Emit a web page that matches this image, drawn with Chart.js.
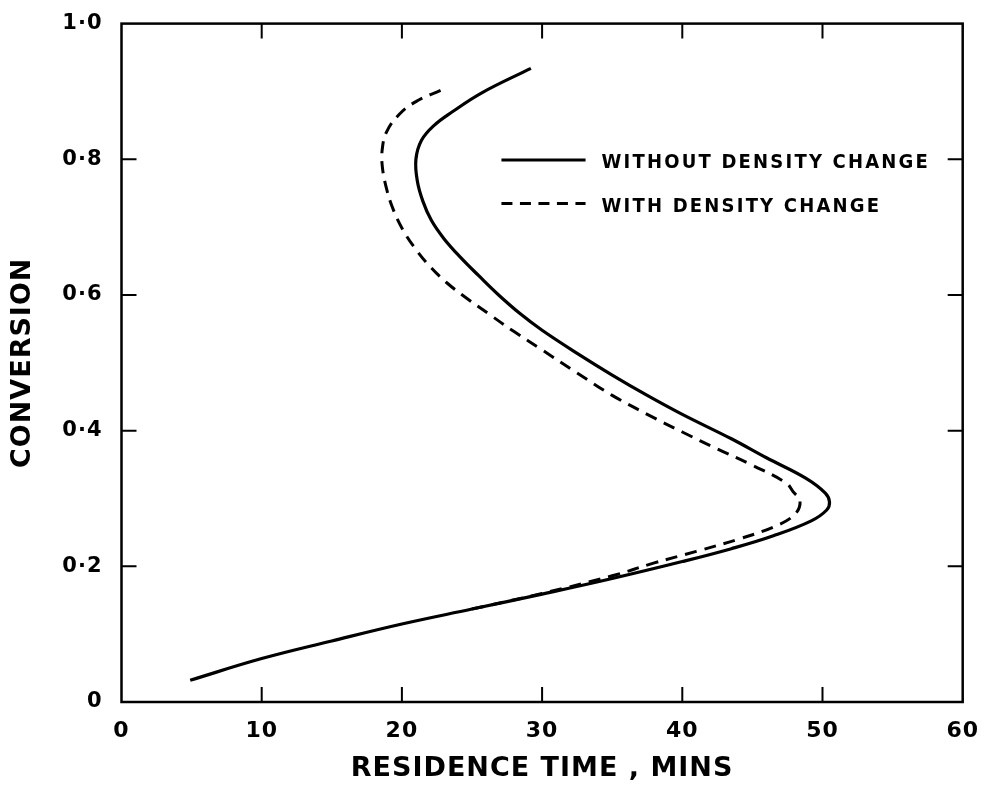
<!DOCTYPE html>
<html>
<head>
<meta charset="utf-8">
<script src="https://cdn.jsdelivr.net/npm/chart.js@4.4.1/dist/chart.umd.min.js"></script>
<style>
  html, body { margin: 0; padding: 0; background: #fff; }
  #wrap { width: 987px; height: 785px; }
</style>
</head>
<body>
<div id="wrap"><canvas id="chart"></canvas></div>
<script>
// Residence time (mins) vs conversion
var solidTime = [4.9, 10, 15, 20, 25, 30, 35, 40, 43.5, 46.5, 49.2, 50.3, 50.5, 50.2, 48.8, 46, 43.5, 40, 37.5, 35, 32.5, 30, 28.4, 26.9, 25.5, 24.2, 23, 22.1, 21.5, 21.1, 21, 21.4, 22.3, 23.6, 25.7, 29.2];
var solidConv = [0.032, 0.064, 0.09, 0.115, 0.137, 0.159, 0.182, 0.207, 0.226, 0.245, 0.267, 0.283, 0.295, 0.308, 0.33, 0.36, 0.388, 0.424, 0.452, 0.482, 0.514, 0.548, 0.573, 0.6, 0.628, 0.655, 0.683, 0.71, 0.738, 0.768, 0.8, 0.828, 0.85, 0.87, 0.898, 0.934];

var dashTime = [25, 30, 35, 38, 41, 44, 46.5, 48, 48.4, 47.9, 47.4, 45, 42.5, 40, 37.5, 35, 32.5, 30, 28, 26.2, 24.5, 23.2, 22, 21, 20.1, 19.4, 18.9, 18.6, 18.6, 18.9, 19.8, 21, 22.8];
var dashConv = [0.137, 0.16, 0.186, 0.205, 0.222, 0.24, 0.258, 0.276, 0.296, 0.31, 0.323, 0.349, 0.373, 0.398, 0.424, 0.452, 0.485, 0.519, 0.546, 0.572, 0.597, 0.618, 0.642, 0.667, 0.695, 0.725, 0.757, 0.79, 0.815, 0.84, 0.866, 0.885, 0.902];

var seriesNames = ['WITHOUT DENSITY CHANGE', 'WITH DENSITY CHANGE'];
var xTicks = [0, 10, 20, 30, 40, 50, 60];
var yTicks = [0, 0.2, 0.4, 0.6, 0.8, 1.0];

function toPoints(xs, ys) {
    return xs.map(function (x, i) { return { x: x, y: ys[i] }; });
}

var FONT = "'DejaVu Sans', sans-serif";

// letter spacing for all text drawn by the chart
var spacingPlugin = {
    id: 'spacing',
    beforeLayout: function (chart) { chart.ctx.letterSpacing = '1px'; },
    beforeDraw: function (chart) { chart.ctx.letterSpacing = '1px'; }
};

// frame with inward ticks on all four sides, plus the in-plot legend
var framePlugin = {
    id: 'frame',
    afterDatasetsDraw: function (chart) {
        var ctx = chart.ctx;
        var a = chart.chartArea;
        var xs = chart.scales.x, ys = chart.scales.y;
        var len = 15;
        ctx.save();
        ctx.strokeStyle = '#000';
        ctx.lineWidth = 2.5;
        ctx.strokeRect(a.left, a.top, a.right - a.left, a.bottom - a.top);
        ctx.lineWidth = 2;
        ctx.beginPath();
        xTicks.slice(1, -1).forEach(function (v) {
            var px = xs.getPixelForValue(v);
            ctx.moveTo(px, a.bottom); ctx.lineTo(px, a.bottom - len);
            ctx.moveTo(px, a.top); ctx.lineTo(px, a.top + len);
        });
        yTicks.slice(1, -1).forEach(function (v) {
            var py = ys.getPixelForValue(v);
            ctx.moveTo(a.left, py); ctx.lineTo(a.left + len, py);
            ctx.moveTo(a.right, py); ctx.lineTo(a.right - len, py);
        });
        ctx.stroke();

        // legend
        var x0 = xs.getPixelForValue(27.1), x1 = xs.getPixelForValue(33.1);
        var rows = [ys.getPixelForValue(0.799), ys.getPixelForValue(0.735)];
        ctx.font = "bold 20px 'DejaVu Sans Condensed', 'DejaVu Sans', sans-serif";
        ctx.letterSpacing = '2.2px';
        ctx.textBaseline = 'middle';
        ctx.fillStyle = '#000';
        chart.data.datasets.forEach(function (ds, i) {
            ctx.lineWidth = 3;
            ctx.setLineDash(ds.borderDash ? [11, 7.5] : []);
            ctx.beginPath();
            ctx.moveTo(x0, rows[i]);
            ctx.lineTo(x1, rows[i]);
            ctx.stroke();
            ctx.setLineDash([]);
            ctx.fillText(ds.label, x1 + 16, rows[i] + 3);
        });
        ctx.restore();
    }
};

new Chart(document.getElementById('chart').getContext('2d'), {
    type: 'scatter',
    data: {
        datasets: [{
            label: seriesNames[0],
            data: toPoints(solidTime, solidConv),
            showLine: true,
            borderColor: '#000',
            borderWidth: 3.2,
            pointRadius: 0,
            tension: 0.4
        }, {
            label: seriesNames[1],
            data: toPoints(dashTime, dashConv),
            showLine: true,
            borderColor: '#000',
            borderWidth: 3,
            borderDash: [12, 8],
            pointRadius: 0,
            tension: 0.4
        }]
    },
    options: {
        responsive: true,
        maintainAspectRatio: false,
        animation: false,
        layout: { padding: { top: 21, right: 22, left: 0, bottom: 0 } },
        plugins: {
            legend: { display: false },
            tooltip: { enabled: false }
        },
        scales: {
            x: {
                type: 'linear',
                min: 0,
                max: 60,
                afterBuildTicks: function (s) { s.ticks = xTicks.map(function (v) { return { value: v }; }); },
                afterFit: function (s) { s.height = 83; },
                grid: { display: false },
                border: { display: false },
                ticks: {
                    color: '#000',
                    padding: 8,
                    font: { family: FONT, size: 22, weight: 'bold' },
                    callback: function (v) { return String(v); }
                },
                title: {
                    display: true,
                    text: 'RESIDENCE TIME , MINS',
                    color: '#000',
                    padding: { top: 2, bottom: 0 },
                    font: { family: FONT, size: 27, weight: 'bold' }
                }
            },
            y: {
                type: 'linear',
                min: 0,
                max: 1,
                afterBuildTicks: function (s) { s.ticks = yTicks.map(function (v) { return { value: v }; }); },
                afterFit: function (s) { s.width = 121.5; },
                grid: { display: false },
                border: { display: false },
                ticks: {
                    color: '#000',
                    padding: 11,
                    font: { family: FONT, size: 21, weight: 'bold' },
                    callback: function (v) { return v === 0 ? '0' : v.toFixed(1).replace('.', '·'); }
                },
                title: {
                    display: true,
                    text: 'CONVERSION',
                    color: '#000',
                    padding: { top: 7, bottom: 0 },
                    font: { family: FONT, size: 27, weight: 'bold' }
                }
            }
        }
    },
    plugins: [spacingPlugin, framePlugin]
});
</script>
</body>
</html>
